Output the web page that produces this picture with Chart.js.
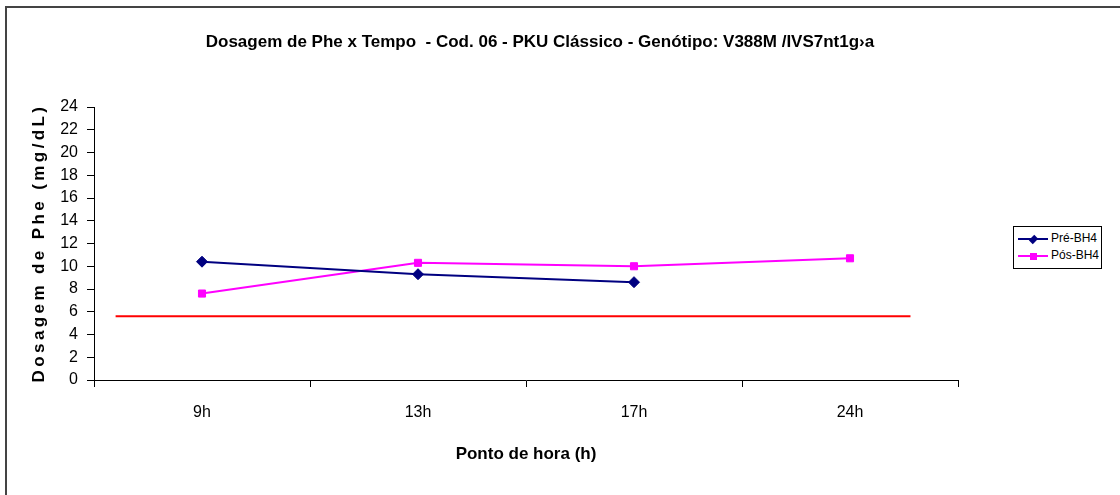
<!DOCTYPE html>
<html>
<head>
<meta charset="utf-8">
<script src="https://cdn.jsdelivr.net/npm/chart.js@4.4.0/dist/chart.umd.min.js"></script>
<style>
  body { margin: 0; background: #fff; }
  #quadro { position: relative; width: 1120px; height: 495px; overflow: hidden; background: #fff; }
  #moldura { position: absolute; left: 5px; top: 6px; width: 1300px; height: 700px;
             border-left: 2px solid #444; border-top: 2px solid #444; }
  #grafico { position: absolute; left: 0; top: 0; }
  #titulo { position: absolute; left: 140px; top: 32px; width: 800px; text-align: center;
            font: bold 17px "Liberation Sans", Arial, sans-serif; color: #000; white-space: pre; }
  #tituloY { position: absolute; left: -111px; top: 233px; width: 300px; text-align: center;
             transform: rotate(-90deg); font: bold 17px "Liberation Sans", Arial, sans-serif;
             letter-spacing: 3.4px; color: #000; white-space: nowrap; }
  #legenda { position: absolute; left: 1013px; top: 226px; width: 87px; height: 41px;
             border: 1px solid #000; background: #fff; font: 12px "Liberation Sans Narrow", "Liberation Sans", Arial, sans-serif; }
  .item { position: absolute; left: 4px; height: 14px; }
  .traco { position: absolute; left: 0; top: 6px; width: 30px; height: 2px; }
  .marca { position: absolute; }
  .rotulo { position: absolute; left: 33px; top: -1px; white-space: nowrap; color: #000; }
</style>
</head>
<body>
<div id="quadro">
  <div id="moldura"></div>
  <canvas id="grafico" width="1120" height="495"></canvas>
  <div id="titulo"></div>
  <div id="tituloY">Dosagem de Phe (mg/dL)</div>
  <div id="legenda"></div>
</div>
<script>
// horários de coleta e dosagens (mg/dL)
const horas = ["9h", "13h", "17h", "24h"];
const preBH4 = [10.4, 9.3, 8.6, null];
const posBH4 = [7.6, 10.3, 10.0, 10.7];
// linha de referência em vermelho (posição no eixo das horas e valor)
const limiteX = [-0.4, 3.28];
const limiteY = 5.6;
const marcasY = [0, 2, 4, 6, 8, 10, 12, 14, 16, 18, 20, 22, 24];

const titulo = "Dosagem de Phe x Tempo  - Cod. 06 - PKU Clássico - Genótipo: V388M /IVS7nt1g\u203Aa";
const fonte = "'Liberation Sans', Arial, sans-serif";
document.getElementById("titulo").textContent = titulo;

const series = [
  { nome: "Pré-BH4", dados: preBH4, cor: "#000080", forma: "rectRot", raio: 5.5 },
  { nome: "Pós-BH4", dados: posBH4, cor: "#FF00FF", forma: "rect", raio: 5 }
];

const conjuntos = series.map(s => ({
  label: s.nome,
  data: s.dados,
  borderColor: s.cor,
  backgroundColor: s.cor,
  borderWidth: 2,
  pointStyle: s.forma,
  pointRadius: s.raio,
  pointBorderWidth: 1,
  tension: 0,
  spanGaps: false,
  xAxisID: "x"
}));

conjuntos.push({
  label: "referência",
  data: limiteX.map(x => ({ x: x, y: limiteY })),
  borderColor: "#FF0000",
  borderWidth: 2,
  pointRadius: 0,
  xAxisID: "x2"
});

new Chart(document.getElementById("grafico"), {
  type: "line",
  data: { labels: horas, datasets: conjuntos },
  options: {
    responsive: false,
    animation: false,
    layout: { padding: { left: 50, right: 162, top: 107, bottom: 0 } },
    plugins: {
      legend: { display: false },
      tooltip: { enabled: false }
    },
    scales: {
      x: {
        type: "category",
        offset: true,
        border: { color: "#000", width: 1 },
        grid: { offset: true, drawOnChartArea: false, tickLength: 7, color: "#000" },
        ticks: { color: "#000", font: { family: fonte, size: 16 }, padding: 16 },
        title: {
          display: true, text: "Ponto de hora (h)", color: "#000",
          font: { family: fonte, size: 17, weight: "bold" },
          padding: { top: 0, bottom: 30 }
        },
        afterFit: s => { s.height = 115; }
      },
      x2: { type: "linear", display: false, min: -0.5, max: 3.5 },
      y: {
        min: 0,
        max: 24,
        border: { color: "#000", width: 1 },
        grid: { drawOnChartArea: false, tickLength: 7, color: "#000" },
        afterBuildTicks: s => { s.ticks = marcasY.map(v => ({ value: v })); },
        ticks: { color: "#000", font: { family: fonte, size: 16 }, padding: 9 },
        afterFit: s => { s.width = 44; }
      }
    }
  }
});

// legenda à direita
const legenda = document.getElementById("legenda");
series.forEach((s, i) => {
  const item = document.createElement("div");
  item.className = "item";
  item.style.top = (5 + i * 17) + "px";
  const tam = 7;
  const giro = s.forma === "rectRot" ? "transform:rotate(45deg) scale(0.8,1.1);" : "";
  item.innerHTML =
    `<div class="traco" style="background:${s.cor}"></div>` +
    `<div class="marca" style="left:${15 - tam / 2}px;top:${7 - tam / 2}px;width:${tam}px;height:${tam}px;background:${s.cor};${giro}"></div>` +
    `<div class="rotulo">${s.nome}</div>`;
  legenda.appendChild(item);
});
</script>
</body>
</html>
